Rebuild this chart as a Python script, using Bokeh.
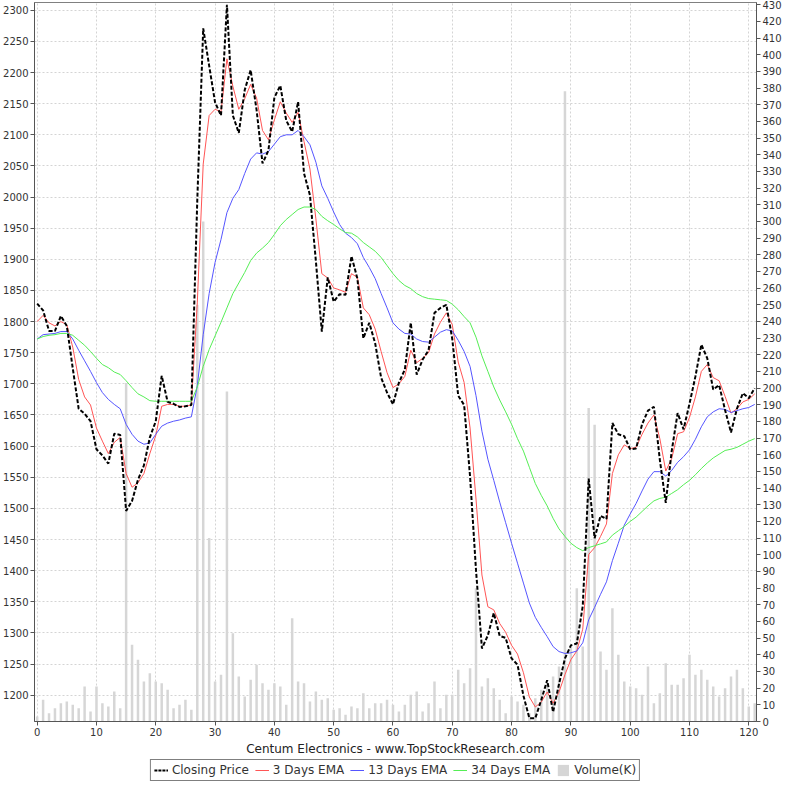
from bokeh.plotting import figure
from bokeh.layouts import column
from bokeh.models import Range1d, LinearAxis, FixedTicker, Legend, LegendItem, Title
from bokeh.embed import file_html
from bokeh.resources import INLINE

close = [1829, 1818, 1785, 1785, 1809, 1793, 1725, 1660, 1652, 1640,
         1595, 1585, 1572, 1620, 1618, 1496, 1512, 1546, 1569, 1614,
         1640, 1713, 1671, 1668, 1663, 1664, 1666, 1995, 2271, 2211,
         2152, 2131, 2309, 2131, 2103, 2172, 2204, 2140, 2054, 2075,
         2160, 2179, 2123, 2105, 2153, 2038, 2003, 1897, 1784, 1871,
         1832, 1844, 1843, 1905, 1869, 1773, 1798, 1765, 1710, 1686,
         1667, 1702, 1723, 1798, 1715, 1739, 1754, 1814, 1822, 1827,
         1772, 1681, 1666, 1551, 1401, 1275, 1296, 1332, 1295, 1292,
         1259, 1249, 1199, 1163, 1163, 1192, 1224, 1173, 1218, 1259,
         1280, 1283, 1343, 1548, 1452, 1488, 1483, 1637, 1619, 1616,
         1595, 1596, 1635, 1657, 1663, 1578, 1509, 1592, 1653, 1627,
         1668, 1712, 1763, 1741, 1691, 1698, 1658, 1622, 1660, 1685,
         1677, 1693]

ema3 = [1800, 1810, 1798, 1793, 1800, 1795, 1759, 1707, 1679, 1666,
        1629, 1608, 1588, 1606, 1614, 1556, 1534, 1541, 1556, 1588,
        1617, 1664, 1667, 1667, 1664, 1664, 1666, 1830, 2053, 2131,
        2141, 2137, 2222, 2178, 2141, 2158, 2181, 2159, 2107, 2092,
        2124, 2153, 2135, 2120, 2136, 2089, 2045, 1965, 1877, 1870,
        1854, 1851, 1847, 1877, 1871, 1822, 1811, 1788, 1752, 1718,
        1694, 1700, 1712, 1754, 1734, 1741, 1750, 1780, 1799, 1814,
        1795, 1735, 1702, 1629, 1515, 1393, 1342, 1337, 1315, 1301,
        1280, 1266, 1236, 1197, 1181, 1189, 1205, 1187, 1205, 1233,
        1257, 1271, 1306, 1426, 1437, 1455, 1475, 1556, 1586, 1602,
        1596, 1598, 1619, 1637, 1650, 1612, 1560, 1580, 1620, 1623,
        1646, 1679, 1720, 1731, 1710, 1705, 1680, 1653, 1660, 1671,
        1675, 1684]

ema13 = [1772, 1779, 1780, 1781, 1784, 1784, 1772, 1754, 1737, 1720,
         1702, 1686, 1675, 1667, 1660, 1635, 1619, 1608, 1603, 1605,
         1619, 1632, 1637, 1640, 1642, 1645, 1647, 1697, 1779, 1845,
         1895, 1932, 1975, 1998, 2012, 2038, 2061, 2071, 2069, 2073,
         2085, 2097, 2100, 2100, 2107, 2097, 2084, 2056, 2018, 1998,
         1976, 1956, 1942, 1935, 1925, 1903, 1887, 1869, 1845, 1822,
         1798, 1788, 1781, 1780, 1772, 1768, 1767, 1775, 1783, 1787,
         1785, 1770, 1752, 1728, 1681, 1624, 1579, 1545, 1510, 1477,
         1444, 1412, 1380, 1348, 1325, 1309, 1294, 1278, 1270, 1267,
         1268, 1271, 1284, 1321, 1341, 1362, 1382, 1416, 1444, 1473,
         1491, 1508, 1528, 1547, 1559, 1559, 1552, 1561, 1574, 1583,
         1594, 1611, 1631, 1647, 1655, 1660, 1659, 1654, 1657, 1660,
         1662, 1667]

ema34 = [1772, 1776, 1778, 1779, 1781, 1781, 1778, 1770, 1762, 1752,
         1741, 1731, 1726, 1719, 1715, 1705, 1694, 1684, 1679, 1673,
         1672, 1672, 1672, 1672, 1672, 1672, 1672, 1695, 1728, 1755,
         1777, 1799, 1822, 1845, 1862, 1879, 1898, 1910, 1918, 1927,
         1940, 1954, 1964, 1972, 1980, 1984, 1984, 1980, 1969, 1962,
         1956, 1949, 1943, 1942, 1936, 1927, 1920, 1913, 1903, 1890,
         1877, 1866, 1858, 1853, 1845, 1840, 1837, 1836, 1835, 1834,
         1828, 1819, 1808, 1798, 1775, 1745, 1720, 1695, 1674, 1655,
         1635, 1612, 1592, 1566, 1540, 1521, 1504, 1484, 1467, 1455,
         1444, 1437, 1432, 1437, 1440, 1443, 1446, 1457, 1464, 1471,
         1479, 1486, 1495, 1504, 1512, 1516, 1518, 1524, 1530, 1538,
         1545, 1554, 1564, 1573, 1581, 1587, 1593, 1595, 1598, 1603,
         1608, 1612]

volume = [3, 13, 5, 8, 11, 12, 10, 8, 21, 6,
          21, 11, 9, 18, 8, 203, 46, 37, 24, 29,
          24, 23, 19, 8, 10, 13, 7, 250, 300, 110,
          24, 28, 198, 53, 27, 15, 25, 34, 23, 19,
          23, 21, 10, 62, 24, 23, 12, 18, 13, 14,
          7, 8, 4, 9, 8, 17, 8, 11, 11, 13,
          10, 6, 10, 16, 18, 6, 11, 24, 8, 16,
          16, 31, 23, 32, 80, 21, 26, 20, 13, 5,
          15, 12, 10, 5, 14, 19, 23, 27, 33, 378,
          45, 80, 45, 188, 178, 42, 31, 68, 40, 24,
          21, 20, 16, 33, 11, 17, 35, 22, 22, 26,
          40, 28, 31, 25, 21, 15, 20, 27, 31, 20,
          9, 11]

idx = list(range(len(close)))

x_ticks = list(range(0, 121, 10))
price_ticks = list(range(1200, 2301, 50))
vol_ticks = list(range(0, 431, 10))

title_text = "Centum Electronics - www.TopStockResearch.com"
series_names = ["Closing Price", "3 Days EMA", "13 Days EMA", "34 Days EMA", "Volume(K)"]
FONT = "DejaVu Sans"

RED = "#ff5555"
BLUE = "#5555ff"
GREEN = "#55ee55"
BAR = "#d6d6d6"

p = figure(width=784, height=756, output_backend="svg", toolbar_location=None,
           x_range=Range1d(-0.45, 121.3), y_range=Range1d(1157.7, 2312.5),
           min_border_left=0, min_border_right=0, min_border_top=2, min_border_bottom=0)
p.extra_y_ranges = {"vol": Range1d(0, 431.3)}
p.background_fill_color = "white"
p.border_fill_color = "white"
p.outline_line_color = "#808080"

right_axis = LinearAxis(y_range_name="vol", ticker=FixedTicker(ticks=vol_ticks))
p.add_layout(right_axis, "right")

p.xaxis.ticker = FixedTicker(ticks=x_ticks)
p.yaxis[0].ticker = FixedTicker(ticks=price_ticks)

for ax in [p.xaxis[0], p.yaxis[0], right_axis]:
    ax.major_label_text_font = FONT
    ax.major_label_text_font_size = "10px"
    ax.major_label_text_color = "#333333"
    ax.axis_line_color = "#555555"
    ax.major_tick_line_color = "#555555"
    ax.major_tick_out = 4
    ax.major_tick_in = 0
    ax.minor_tick_line_color = None
    ax.major_label_standoff = 2

p.xgrid.ticker = FixedTicker(ticks=x_ticks)
p.ygrid.ticker = FixedTicker(ticks=price_ticks)
for g in [p.xgrid[0], p.ygrid[0]]:
    g.grid_line_color = "#d4d4d4"
    g.grid_line_dash = "2 2"
    g.grid_line_width = 1

p.vbar(x=idx, top=volume, width=0.42, bottom=0, y_range_name="vol",
       fill_color=BAR, line_color=None)
p.line(idx, ema3, line_color=RED, line_width=1)
p.line(idx, ema13, line_color=BLUE, line_width=1)
p.line(idx, ema34, line_color=GREEN, line_width=1)
p.line(idx, close, line_color="black", line_width=2, line_dash="4 2")

title = Title(text=title_text, align="center", text_font=FONT,
              text_font_size="12px", text_font_style="normal", text_color="#222222",
              standoff=2)
p.add_layout(title, "below")

# legend strip (key glyphs drawn off-range so only the legend shows)
lf = figure(width=784, height=28, output_backend="svg", toolbar_location=None,
            x_range=Range1d(0, 1), y_range=Range1d(0, 1),
            min_border=0)
lf.axis.visible = False
lf.grid.visible = False
lf.outline_line_color = None
lf.background_fill_color = "white"
lf.border_fill_color = "white"
off_x = [-5, -4]
off_y = [-5, -5]
k0 = lf.line(x=off_x, y=off_y, line_color="black", line_width=2, line_dash="3 1")
k1 = lf.line(x=off_x, y=off_y, line_color=RED, line_width=1)
k2 = lf.line(x=off_x, y=off_y, line_color=BLUE, line_width=1)
k3 = lf.line(x=off_x, y=off_y, line_color=GREEN, line_width=1)
k4 = lf.rect(x=off_x, y=off_y, width=0.01, height=0.01, fill_color=BAR, line_color=None)

legend = Legend(items=[LegendItem(label=n, renderers=[r])
                       for n, r in zip(series_names, [k0, k1, k2, k3, k4])],
                orientation="horizontal", location="center",
                border_line_color="black", border_line_width=1,
                label_text_font=FONT, label_text_font_size="12px", label_text_color="#333333",
                glyph_width=14, glyph_height=14, label_height=14, label_standoff=4,
                spacing=6, padding=3, margin=0, background_fill_color="white")
lf.add_layout(legend, "center")

layout = column(p, lf, spacing=0)
open("out.html", "w").write(file_html(layout, INLINE))
